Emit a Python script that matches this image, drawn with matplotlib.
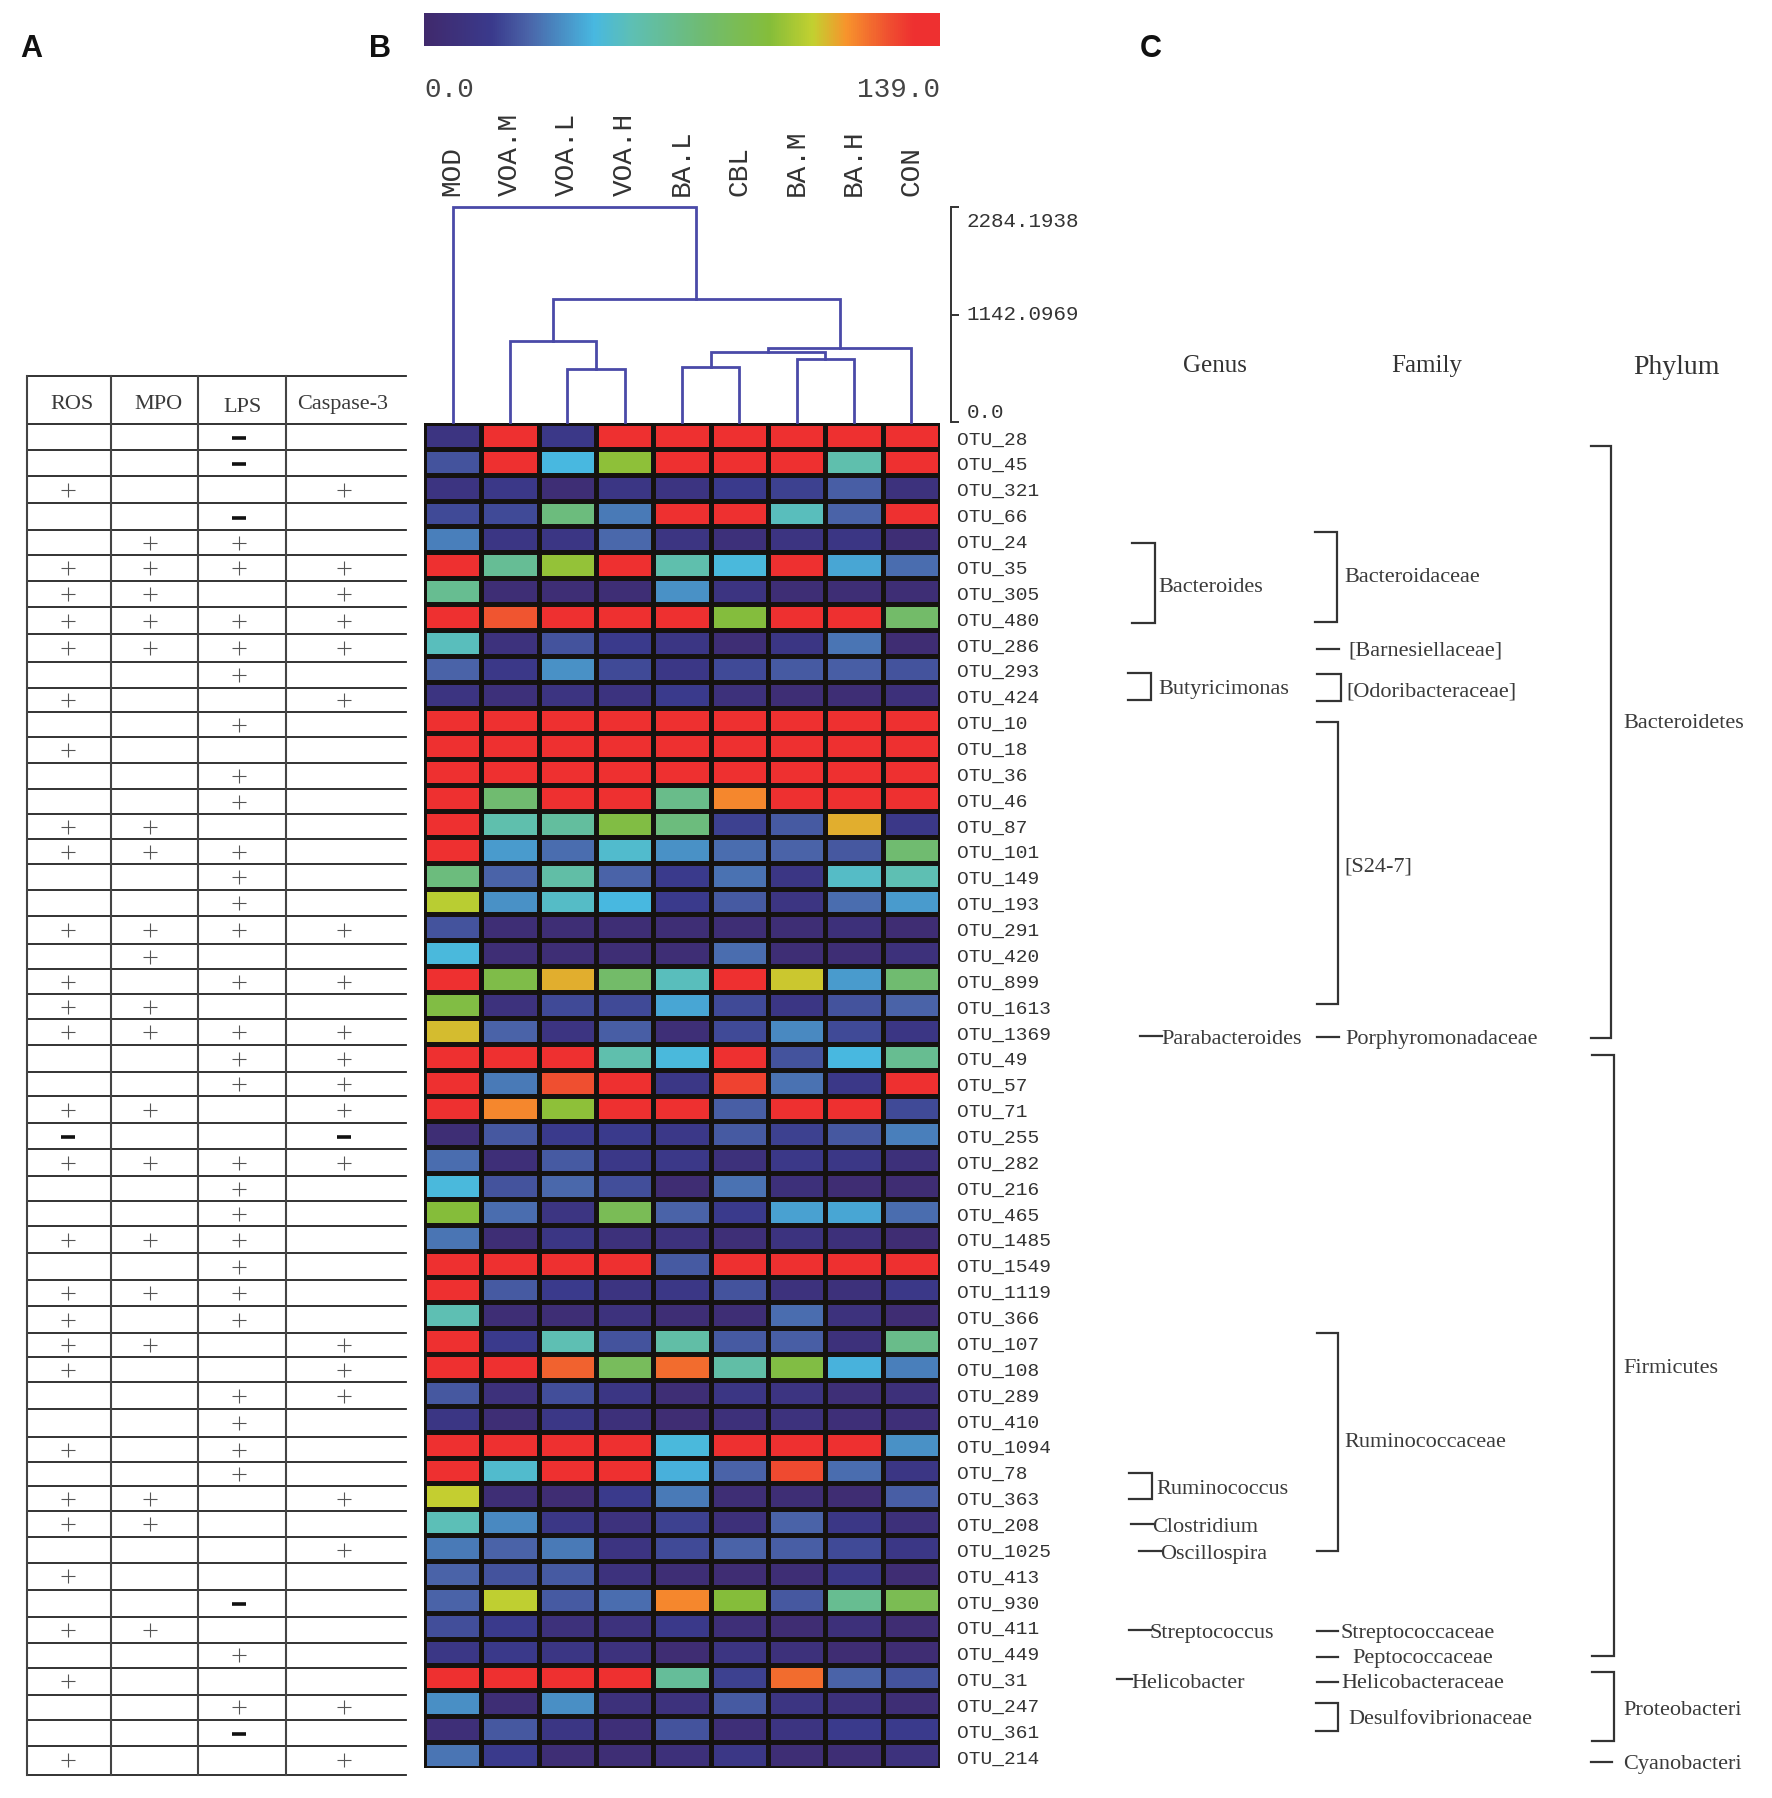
import matplotlib
matplotlib.use("Agg")
import numpy as np
import matplotlib.pyplot as plt
from matplotlib.cm import ScalarMappable
from matplotlib.colors import LinearSegmentedColormap, Normalize
from matplotlib.transforms import ScaledTranslation

W, H = 1772, 1799

# heatmap values (0 - 139 scale)
groups = ["MOD", "VOA.M", "VOA.L", "VOA.H", "BA.L", "CBL", "BA.M", "BA.H", "CON"]
otus = ["OTU_28", "OTU_45", "OTU_321", "OTU_66", "OTU_24", "OTU_35", "OTU_305", "OTU_480", "OTU_286",
        "OTU_293", "OTU_424", "OTU_10", "OTU_18", "OTU_36", "OTU_46", "OTU_87", "OTU_101", "OTU_149",
        "OTU_193", "OTU_291", "OTU_420", "OTU_899", "OTU_1613", "OTU_1369", "OTU_49", "OTU_57", "OTU_71",
        "OTU_255", "OTU_282", "OTU_216", "OTU_465", "OTU_1485", "OTU_1549", "OTU_1119", "OTU_366",
        "OTU_107", "OTU_108", "OTU_289", "OTU_410", "OTU_1094", "OTU_78", "OTU_363", "OTU_208",
        "OTU_1025", "OTU_413", "OTU_930", "OTU_411", "OTU_449", "OTU_31", "OTU_247", "OTU_361", "OTU_214"]
abundance = [
    [12, 135, 16, 135, 135, 135, 135, 135, 135],
    [24, 135, 46, 95, 135, 135, 135, 58, 135],
    [12, 16, 5, 14, 12, 18, 20, 27, 10],
    [22, 22, 72, 33, 135, 135, 54, 28, 135],
    [34, 14, 14, 29, 13, 8, 12, 14, 5],
    [135, 65, 96, 135, 58, 47, 135, 42, 30],
    [66, 5, 5, 5, 38, 12, 5, 5, 5],
    [135, 124, 135, 135, 135, 92, 135, 135, 78],
    [54, 10, 24, 18, 14, 5, 14, 32, 4],
    [28, 16, 38, 22, 15, 22, 26, 27, 24],
    [12, 8, 12, 11, 18, 9, 5, 5, 8],
    [135, 135, 135, 135, 135, 135, 135, 135, 135],
    [135, 135, 135, 135, 135, 135, 135, 135, 135],
    [135, 135, 135, 135, 135, 135, 135, 135, 135],
    [135, 76, 135, 135, 68, 116, 135, 135, 135],
    [135, 58, 62, 90, 72, 20, 26, 110, 16],
    [135, 40, 30, 50, 38, 30, 28, 25, 76],
    [72, 28, 60, 28, 18, 31, 14, 52, 56],
    [103, 38, 52, 46, 18, 26, 13, 30, 40],
    [24, 5, 5, 5, 5, 5, 5, 8, 4],
    [47, 5, 5, 5, 5, 30, 5, 5, 9],
    [135, 88, 110, 78, 54, 135, 106, 40, 76],
    [90, 10, 22, 22, 42, 22, 14, 24, 28],
    [108, 28, 12, 27, 6, 22, 36, 22, 14],
    [135, 135, 135, 58, 47, 135, 24, 46, 66],
    [135, 33, 125, 135, 15, 128, 31, 16, 135],
    [135, 116, 95, 135, 135, 27, 135, 135, 22],
    [5, 25, 18, 18, 16, 26, 20, 25, 34],
    [30, 7, 26, 16, 16, 9, 16, 15, 8],
    [47, 24, 29, 23, 4, 31, 8, 4, 4],
    [93, 30, 13, 84, 28, 18, 41, 42, 30],
    [32, 5, 14, 9, 10, 6, 11, 8, 4],
    [135, 135, 135, 135, 26, 135, 135, 135, 135],
    [135, 26, 18, 12, 15, 24, 10, 9, 16],
    [56, 5, 5, 10, 5, 5, 30, 10, 4],
    [135, 18, 56, 24, 60, 26, 27, 9, 68],
    [135, 135, 122, 82, 120, 60, 90, 45, 34],
    [25, 9, 23, 14, 5, 14, 12, 6, 8],
    [14, 5, 15, 8, 4, 8, 10, 7, 7],
    [135, 135, 135, 135, 47, 135, 135, 135, 38],
    [135, 50, 135, 135, 44, 28, 126, 30, 14],
    [105, 5, 4, 18, 33, 5, 5, 4, 27],
    [55, 36, 15, 10, 20, 8, 28, 15, 8],
    [33, 28, 33, 12, 22, 28, 27, 22, 15],
    [28, 24, 26, 10, 5, 4, 5, 15, 4],
    [28, 104, 26, 30, 116, 93, 25, 66, 85],
    [23, 18, 9, 10, 17, 7, 4, 8, 4],
    [15, 17, 14, 10, 4, 13, 9, 4, 4],
    [135, 135, 135, 135, 64, 20, 120, 28, 24],
    [37, 5, 37, 9, 10, 26, 13, 9, 5],
    [7, 25, 14, 7, 24, 7, 12, 18, 18],
    [32, 18, 5, 5, 8, 15, 5, 5, 10],
]

# dendrogram merges: left node, right node, height. Leaves are 0-8, new nodes count up from 9
merges = [(2, 3, 563), (1, 9, 860), (4, 5, 584), (6, 7, 669), (11, 12, 744),
          (13, 8, 786), (10, 14, 1307), (0, 15, 2284.1938)]
scale_ticks = [0.0, 1142.0969, 2284.1938]
scale_labels = ["0.0", "1142.0969", "2284.1938"]

# table A, one string per OTU row: ROS, MPO, LPS, Caspase-3
table_head = ["ROS", "MPO", "LPS", "Caspase-3"]
table_marks = ["..-.", "..-.", "+..+", "..-.", ".++.", "++++", "++.+", "++++", "++++", "..+.",
               "+..+", "..+.", "+...", "..+.", "..+.", "++..", "+++.", "..+.", "..+.", "++++",
               ".+..", "+.++", "++..", "++++", "..++", "..++", "++.+", "-..-", "++++", "..+.",
               "..+.", "+++.", "..+.", "+++.", "+.+.", "++.+", "+..+", "..++", "..+.", "+.+.",
               "..+.", "++.+", "++..", "...+", "+...", "..-.", "++..", "..+.", "+...", "..++",
               "..-.", "+..+"]

genus_names = ["Bacteroides", "Butyricimonas", "Parabacteroides", "Ruminococcus", "Clostridium",
               "Oscillospira", "Streptococcus", "Helicobacter"]
family_names = ["Bacteroidaceae", "[Barnesiellaceae]", "[Odoribacteraceae]", "[S24-7]", "Porphyromonadaceae",
                "Ruminococcaceae", "Streptococcaceae", "Peptococcaceae", "Helicobacteraceae", "Desulfovibrionaceae"]
phylum_names = ["Bacteroidetes", "Firmicutes", "Proteobacteri", "Cyanobacteri"]

# layout, all in reference pixels
genus_text = [(1158, 588), (1158, 690), (1161, 1040), (1156, 1490), (1152, 1528), (1160, 1555), (1150, 1634), (1131, 1684)]
family_text = [(1344, 578), (1348, 651), (1346, 692), (1344, 867), (1345, 1040), (1344, 1443), (1341, 1634), (1352, 1659), (1341, 1684), (1348, 1720)]
phylum_text = [(1623, 724), (1623, 1369), (1623, 1711), (1623, 1765)]
# tail x, spine x, top y, bottom y (top == bottom gives a plain dash)
brackets = [(1132, 1155, 544, 624), (1128, 1151, 674, 701), (1140, 1162, 1037, 1037), (1129, 1152, 1474, 1500),
            (1131, 1153, 1525, 1525), (1139, 1161, 1552, 1552), (1129, 1151, 1631, 1631), (1117, 1132, 1680, 1680),
            (1315, 1337, 533, 623), (1317, 1339, 650, 650), (1317, 1341, 675, 702), (1317, 1338, 723, 1005),
            (1317, 1339, 1038, 1038), (1317, 1338, 1334, 1552), (1317, 1338, 1632, 1632), (1317, 1338, 1658, 1658),
            (1317, 1338, 1683, 1683), (1316, 1338, 1704, 1732),
            (1591, 1611, 447, 1039), (1592, 1614, 1056, 1657), (1592, 1614, 1673, 1742), (1591, 1612, 1763, 1763)]

row_edges = [425, 451, 477, 504, 531, 556, 582, 608, 635, 663, 689, 713, 738, 764, 790, 815, 840, 865, 891,
             917, 945, 970, 995, 1020, 1046, 1073, 1097, 1124, 1150, 1177, 1202, 1227, 1254, 1281, 1307, 1334,
             1358, 1383, 1410, 1438, 1463, 1487, 1512, 1538, 1564, 1591, 1618, 1644, 1669, 1696, 1721, 1747, 1776]
col_edges = [27, 111, 198, 286, 406]
mark_x = [68, 150, 239, 344]

heat_colors = [(0.0, "#40296c"), (0.13, "#3a3a8c"), (0.20, "#4a63a8"), (0.33, "#48b8e0"), (0.40, "#5dbfb5"),
               (0.54, "#6fbb72"), (0.67, "#85bd3a"), (0.755, "#c3d030"), (0.82, "#f7942c"), (0.90, "#ef5030"),
               (0.95, "#ee3030"), (1.0, "#ee3030")]
cmap = LinearSegmentedColormap.from_list("heat", heat_colors)
norm = Normalize(0, 139)

SERIF = "Liberation Serif"
MONO = "Liberation Mono"
TXT = "#3a3a3a"


def px_axes(x0, y0, x1, y1):
    return fig.add_axes([x0 / W, 1 - y1 / H, (x1 - x0) / W, (y1 - y0) / H])


def nudge(label, dy_px):
    # move a tick label down by some pixels
    label.set_transform(label.get_transform() + ScaledTranslation(0, -dy_px / 100, fig.dpi_scale_trans))


fig = plt.figure(figsize=(W / 100, H / 100), dpi=100)

# overlay in pixel coordinates for table and taxonomy
ov = fig.add_axes([0, 0, 1, 1])
ov.set_xlim(0, W)
ov.set_ylim(H, 0)
ov.axis("off")

# panel letters
for letter, x in zip("ABC", [31, 380, 1151]):
    ov.text(x, 49, letter, fontsize=22, fontweight="bold", family="Liberation Sans", ha="center", va="center", color="#111111")

# colour bar
cax = px_axes(424, 14, 940, 47)
cb = fig.colorbar(ScalarMappable(norm=norm, cmap=cmap), cax=cax, orientation="horizontal")
cb.set_ticks([])
cb.outline.set_visible(False)
ov.text(424, 90, "0.0", family=MONO, fontsize=20, ha="left", va="center", color="#444444")
ov.text(940, 90, "139.0", family=MONO, fontsize=20, ha="right", va="center", color="#444444")

# heatmap
hax = px_axes(424, 424, 940, 1769)
hax.pcolormesh(np.array(abundance), cmap=cmap, norm=norm, edgecolors="#15120f", linewidth=2.4)
hax.set_xlim(0, len(groups))
hax.set_ylim(len(otus), 0)
hax.set_xticks([])
hax.set_yticks(np.arange(len(otus)) + 0.5)
hax.set_yticklabels(otus, family=MONO, fontsize=14, color="#333333")
hax.yaxis.tick_right()
hax.tick_params(axis="y", length=0, pad=12)
for lab in hax.get_yticklabels():
    nudge(lab, 1)
for s in hax.spines.values():
    s.set_visible(False)

# dendrogram
dax = px_axes(424, 208, 940, 423)
dax.set_xlim(0, len(groups))
dax.set_ylim(0, 2284.1938)
node_x = [i + 0.5 for i in range(len(groups))]
node_h = [0.0] * len(groups)
for a, b, h in merges:
    dax.plot([node_x[a], node_x[a], node_x[b], node_x[b]], [node_h[a], h, h, node_h[b]],
             color="#4a4aa8", lw=2.0, solid_joinstyle="miter", clip_on=False)
    node_x.append((node_x[a] + node_x[b]) / 2)
    node_h.append(h)
dax.patch.set_alpha(0)
for name in ["left", "bottom"]:
    dax.spines[name].set_visible(False)
dax.spines["top"].set_visible(False)
dax.spines["right"].set_position(("outward", 8))
dax.spines["right"].set_color("#333333")
dax.spines["right"].set_linewidth(1.4)
dax.yaxis.tick_right()
dax.set_yticks(scale_ticks)
dax.set_yticklabels(scale_labels, family=MONO, fontsize=15, color="#333333")
dax.tick_params(axis="y", length=6, width=1.4, color="#333333", pad=5)
for lab, va, dy in zip(dax.get_yticklabels(), ["bottom", "center", "top"], [-1, -1, 4]):
    lab.set_va(va)
    nudge(lab, dy)
# group names on top of the tree
dax.xaxis.tick_top()
dax.set_xticks(np.arange(len(groups)) + 0.5)
dax.set_xticklabels(groups, family=MONO, fontsize=20, rotation=90, color="#333333")
dax.tick_params(axis="x", length=0, pad=9)

# table A
for y in [377] + row_edges:
    ov.plot([col_edges[0], col_edges[-1]], [y, y], color="#222222", lw=1.3)
for x in col_edges[:-1]:
    ov.plot([x, x], [377, row_edges[-1]], color="#444444", lw=1.5)
for head, x, y in zip(table_head, [72, 158, 243, 343], [405, 405, 408, 405]):
    ov.text(x, y, head, family=SERIF, fontsize=16, ha="center", va="center", color=TXT)
for i, row in enumerate(table_marks):
    yc = (row_edges[i] + row_edges[i + 1]) / 2
    for x, m in zip(mark_x, row):
        if m == "+":
            ov.plot(x, yc, marker="+", ms=10, mew=0.8, color="#555555")
        elif m == "-":
            ov.plot(x, yc + 1, marker="_", ms=10, mew=2.6, color="#111111")

# taxonomy column
for head, x, y, size in [("Genus", 1215, 366, 18), ("Family", 1427, 366, 18), ("Phylum", 1676, 368, 20)]:
    ov.text(x, y, head, family=SERIF, fontsize=size, ha="center", va="center", color="#333333")
for x0, x1, y0, y1 in brackets:
    if y0 == y1:
        ov.plot([x0, x1], [y0, y1], color="#333333", lw=1.6)
    else:
        ov.plot([x0, x1, x1, x0], [y0, y0, y1, y1], color="#333333", lw=1.6, solid_joinstyle="miter")
for names, where in [(genus_names, genus_text), (family_names, family_text), (phylum_names, phylum_text)]:
    for name, (x, y) in zip(names, where):
        ov.text(x, y, name, family=SERIF, fontsize=16, ha="left", va="center", color=TXT)

fig.savefig("out.png", dpi=100, facecolor="white")
